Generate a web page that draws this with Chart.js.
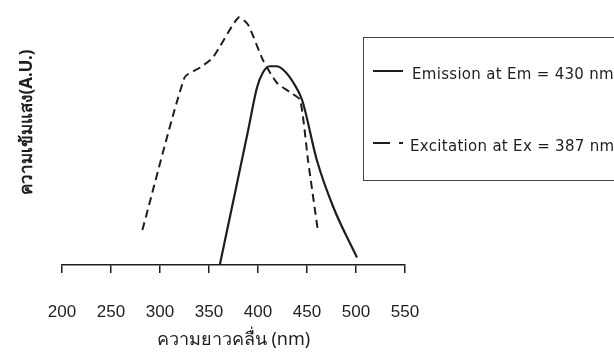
<!DOCTYPE html>
<html>
<head>
<meta charset="utf-8">
<script src="https://cdn.jsdelivr.net/npm/chart.js@4"></script>
<style>
  html, body { margin: 0; padding: 0; background: #fff; }
  #wrap { width: 614px; height: 361px; }
</style>
</head>
<body>
<div id="wrap"><canvas id="c" width="614" height="361"></canvas></div>
<script>
// Wavelength ticks (nm)
const tickValues = [200, 250, 300, 350, 400, 450, 500, 550];

// Emission spectrum (solid)
const emissionLabel = 'Emission at Em = 430 nm';
const emissionWl = [361, 375, 390, 399, 405, 412, 419, 426, 436, 445, 460, 477, 501];
const emissionI  = [0, 26, 54, 71, 77, 79.5, 79.5, 78, 73, 66, 42, 23, 3];

// Excitation spectrum (dashed)
const excitationLabel = 'Excitation at Ex = 387 nm';
const excitationWl = [282, 325, 341, 354, 380, 390, 405, 419, 433, 443, 451, 461];
const excitationI  = [14, 75, 79, 83, 99, 96, 82, 73, 69, 66, 42, 14];

const xTitle = 'ความยาวคลื่น (nm)';
const yTitle = 'ความเข้มแสง(A.U.)';

const toPoints = (xs, ys) => xs.map((x, i) => ({ x: x, y: ys[i] }));

const ink = '#1e1e1e';

// Vertical intensity label, placed a little above the plot's middle
const yLabel = {
  id: 'yLabel',
  afterDraw(chart) {
    const ctx = chart.ctx;
    ctx.save();
    ctx.translate(27, 122);
    ctx.rotate(-Math.PI / 2);
    ctx.font = 'bold 17px "Noto Sans", "DejaVu Sans", sans-serif';
    ctx.fillStyle = ink;
    ctx.textAlign = 'center';
    ctx.textBaseline = 'middle';
    ctx.fillText(yTitle, 0, 0);
    ctx.restore();
  }
};

// Legend box drawn inside the canvas, to the right of the axis
const boxLegend = {
  id: 'boxLegend',
  afterDraw(chart) {
    const ctx = chart.ctx;
    ctx.save();
    ctx.strokeStyle = '#444';
    ctx.lineWidth = 1;
    ctx.strokeRect(363.5, 37.5, 300, 143);
    const rows = [
      { y: 75, lineY: 71, textX: 412, ds: chart.data.datasets[0] },
      { y: 147, lineY: 143, textX: 410, ds: chart.data.datasets[1] }
    ];
    ctx.font = '15px "DejaVu Sans", sans-serif';
    if ('letterSpacing' in ctx) ctx.letterSpacing = '0.3px';
    ctx.fillStyle = ink;
    ctx.textBaseline = 'middle';
    rows.forEach((r, i) => {
      ctx.strokeStyle = ink;
      ctx.lineWidth = 2;
      ctx.beginPath();
      if (i === 0) {
        ctx.moveTo(373, r.lineY); ctx.lineTo(403, r.lineY);
      } else {
        ctx.moveTo(373, r.lineY); ctx.lineTo(390, r.lineY);
        ctx.moveTo(399, r.lineY); ctx.lineTo(403, r.lineY);
      }
      ctx.stroke();
      ctx.fillText(r.ds.label, r.textX, r.y);
    });
    ctx.restore();
  }
};

new Chart(document.getElementById('c'), {
  type: 'line',
  data: {
    datasets: [
      {
        label: emissionLabel,
        data: toPoints(emissionWl, emissionI),
        borderColor: ink,
        borderWidth: 2.2,
        pointRadius: 0,
        cubicInterpolationMode: 'monotone',
        fill: false
      },
      {
        label: excitationLabel,
        data: toPoints(excitationWl, excitationI),
        borderColor: ink,
        borderWidth: 2,
        borderDash: [8, 5],
        pointRadius: 0,
        tension: 0.2,
        fill: false
      }
    ]
  },
  options: {
    responsive: false,
    animation: false,
    layout: { padding: { left: 14, top: 15, right: 209, bottom: 10 } },
    plugins: { legend: { display: false }, tooltip: { enabled: false } },
    scales: {
      x: {
        type: 'linear',
        min: 200,
        max: 550,
        afterBuildTicks(scale) { scale.ticks = tickValues.map(v => ({ value: v })); },
        afterFit(scale) { scale.height = 86; },
        grid: { display: true, drawOnChartArea: false, drawTicks: true, tickLength: 8, color: ink, lineWidth: 1.5 },
        border: { display: true, color: ink, width: 1.5 },
        ticks: {
          padding: 29,
          color: ink,
          maxRotation: 0,
          font: { family: '"Liberation Sans", Arial, sans-serif', size: 17 }
        },
        title: {
          display: true,
          text: xTitle,
          color: ink,
          padding: { top: 0, bottom: 0 },
          font: { family: '"Noto Sans", "DejaVu Sans", sans-serif', size: 18 }
        }
      },
      y: {
        min: 0,
        max: 100,
        afterFit(scale) { scale.width = 48; },
        grid: { display: false },
        border: { display: false },
        ticks: { display: false },
        title: { display: false }
      }
    }
  },
  plugins: [boxLegend, yLabel]
});
</script>
</body>
</html>
